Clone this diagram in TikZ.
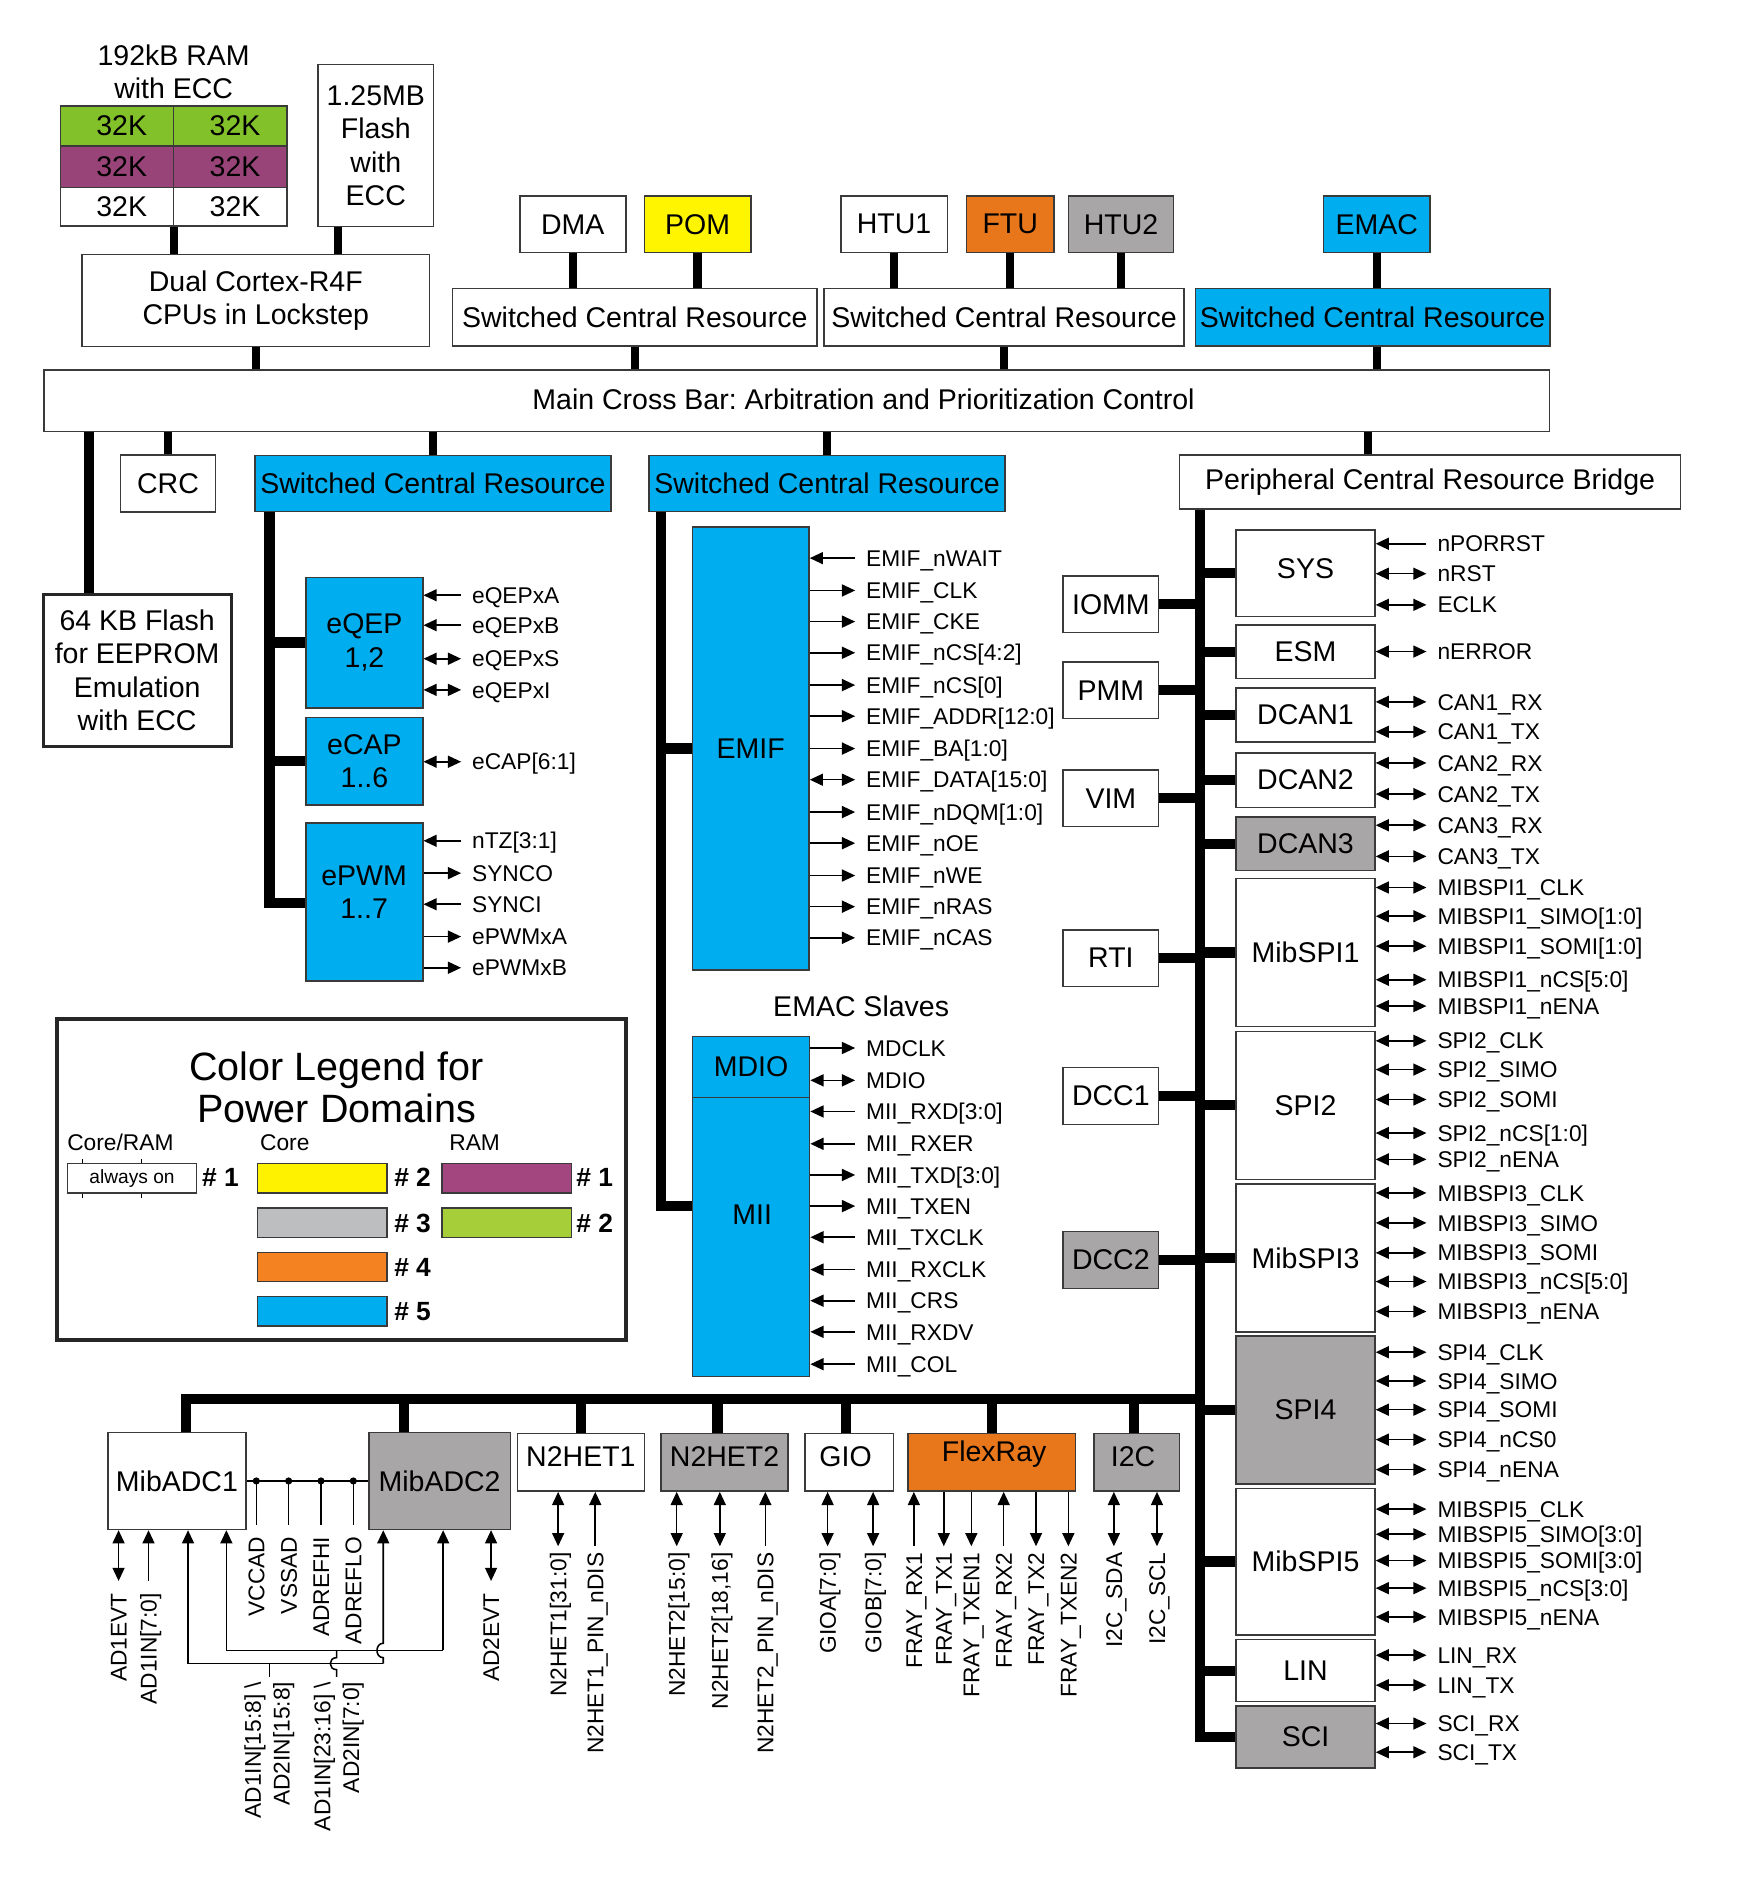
\documentclass[tikz,border=0pt]{standalone}
\usepackage{fontspec}
\setmainfont{Liberation Sans}
\usetikzlibrary{arrows.meta}
\frenchspacing
\definecolor{cblue}{HTML}{00AEEF}
\definecolor{cpom}{HTML}{FFF500}
\definecolor{cyel}{HTML}{FFF200}
\definecolor{cora}{HTML}{E8771B}
\definecolor{lora}{HTML}{F58220}
\definecolor{cgray}{HTML}{A8A6A7}
\definecolor{lgray}{HTML}{BCBEC0}
\definecolor{cgreen}{HTML}{82C12A}
\definecolor{lgreen}{HTML}{A6CE39}
\definecolor{cpur}{HTML}{984478}
\definecolor{lpur}{HTML}{A3467F}
\definecolor{bord}{HTML}{3A3A3A}
\newcommand\mybox[7][white]{%
  \node[blk,fill=#1,minimum width={(#5-#3)*1pt},minimum height={(#6-#4)*1pt}] (#2) at ({(#3+#5)/2},{(#4+#6)/2}) {#7};}
\newcommand\pinR[5]{%
  \node[lbl] (#1-#3) at (#2,#3) {#5};
  \draw[wire,#4] (#1.east |- #1-#3.west) -- ([xshift=-9pt]#1-#3.west);}
\newcommand\pinB[6]{%
  \node[rlbl] (#1-#2) at (#2,#3) {#6};
  \draw[wire,#5] (#1.south -| #1-#2.east) -- ([yshift=#4pt]#1-#2.east);}
\begin{document}
\frenchspacing
\begin{tikzpicture}[x=1pt,y=-1pt,
  >={Triangle[length=11pt,width=10pt]},
  blk/.style={draw=bord,line width=1.2pt,inner sep=0pt,align=center,font=\fontsize{23.8}{28}\selectfont},
  lbl/.style={inner sep=0pt,anchor=west,font=\fontsize{19}{23}\selectfont,text height=13.6pt,text depth=0pt},
  rlbl/.style={inner sep=0pt,anchor=east,rotate=90,font=\fontsize{19}{23}\selectfont,text height=13.6pt,text depth=0pt},
  rlbl2/.style={inner sep=0pt,anchor=east,rotate=90,align=right,font=\fontsize{19}{24}\selectfont},
  btxt/.style={inner sep=0pt,align=center,font=\fontsize{23.8}{28}\selectfont},
  wire/.style={line width=1.3pt,draw=black},
  bus/.style={line width=8.5pt},
  stem/.style={line width=7pt},
  lg/.style={draw=bord,line width=1.2pt,inner sep=0pt,minimum width=108pt,minimum height=24.5pt},
  lnum/.style={inner sep=0pt,anchor=west,font=\fontsize{22}{26}\selectfont\bfseries,text height=15.7pt,text depth=0pt}]
\fill[white] (0,0) rectangle (1457,1568);
\useasboundingbox (0,0) rectangle (1457,1568);

% ---------- top left ----------
\node[btxt] (ramt) at (145,60) {192kB RAM\\with ECC};
\mybox[cgreen]{r1a}{50.5}{88.5}{144.8}{122}{\hspace*{8pt}32K}
\mybox[cgreen]{r1b}{144.8}{88.5}{239.7}{122}{\hspace*{8pt}32K}
\mybox[cpur]{r2a}{50.5}{122}{144.8}{156.7}{\hspace*{8pt}32K}
\mybox[cpur]{r2b}{144.8}{122}{239.7}{156.7}{\hspace*{8pt}32K}
\mybox{r3a}{50.5}{156.7}{144.8}{188.7}{\hspace*{8pt}32K}
\mybox{r3b}{144.8}{156.7}{239.7}{188.7}{\hspace*{8pt}32K}
\mybox{flash}{265.5}{53.7}{362}{189.3}{1.25MB\\Flash\\with\\ECC}
\mybox{cpu}{68.4}{212.6}{358.8}{289.5}{Dual Cortex-R4F\\CPUs in Lockstep}
\mybox{xbar}{36.7}{309}{1293.8}{360.4}{}
\node[btxt] (xbart) at (721,333) {Main Cross Bar: Arbitration and Prioritization Control};

% ---------- top masters ----------
\mybox{dma}{434}{163.5}{522.5}{211}{DMA}
\mybox[cpom]{pom}{538}{163.5}{627}{211}{POM}
\mybox{htu1}{702}{163.5}{791}{211}{HTU1}
\mybox[cora]{ftu}{807}{163.5}{880}{211}{FTU}
\mybox[cgray]{htu2}{892}{163.5}{980}{211}{HTU2}
\mybox[cblue]{emac}{1105}{163.5}{1194}{211}{EMAC}
\mybox{scr1}{378}{241}{682}{289}{Switched Central Resource}
\mybox{scr2}{688}{241}{988.5}{289}{Switched Central Resource}
\mybox[cblue]{scr3}{998}{241}{1294}{289}{Switched Central Resource}

% ---------- below crossbar ----------
\mybox{crc}{100.6}{380}{180}{427.6}{CRC}
\mybox[cblue]{scr4}{213}{380.5}{510}{427}{Switched Central Resource}
\mybox[cblue]{scr5}{542}{380.5}{839}{427}{Switched Central Resource}
\mybox{pcrb}{985}{380}{1403}{425}{Peripheral Central Resource Bridge}
\node[blk,draw=black!85,line width=2.4pt,minimum width=157pt,minimum height=126.5pt] (flash64) at (114.5,559.75) {64 KB Flash\\for EEPROM\\Emulation\\with ECC};

\mybox[cblue]{eqep}{255.6}{482}{353}{591}{eQEP\\1,2}
\mybox[cblue]{ecap}{255.6}{599}{353}{672}{eCAP\\1..6}
\mybox[cblue]{epwm}{255.6}{687}{353}{819}{}
\node[btxt] (epwmt) at (304,745) {ePWM\\1..7};
\mybox[cblue]{emif}{578}{440}{675.5}{810}{EMIF}
\node[btxt] (emacs) at (719,840) {EMAC Slaves};
\mybox[cblue]{mdio}{578}{865.5}{676}{916.5}{MDIO}
\mybox[cblue]{mii}{578}{916.5}{676}{1149.4}{}
\node[btxt] (miit) at (628,1014) {MII};

% ---------- peripheral column ----------
\mybox{iomm}{887.6}{481}{967.4}{528}{IOMM}
\mybox{pmm}{887.6}{552.7}{967.4}{600}{PMM}
\mybox{vim}{887.6}{643}{967.4}{690}{VIM}
\mybox{rti}{887.6}{776.5}{967.4}{823.5}{RTI}
\mybox{dcc1}{887.6}{891.4}{967.4}{939}{DCC1}
\mybox[cgray]{dcc2}{887.6}{1028}{967.4}{1075.6}{DCC2}

\mybox{sys}{1032}{442.6}{1148}{514.5}{}
\node[btxt] (syst) at (1090,475) {SYS};
\mybox{esm}{1032}{522}{1148}{566.6}{ESM}
\mybox{dcan1}{1032}{574.6}{1148}{619.6}{DCAN1}
\mybox{dcan2}{1032}{628.7}{1148}{674}{DCAN2}
\mybox[cgray]{dcan3}{1032}{682}{1148}{727}{DCAN3}
\mybox{mibspi1}{1032}{733.6}{1148}{857}{MibSPI1}
\mybox{spi2}{1032}{861}{1148}{984.6}{SPI2}
\mybox{mibspi3}{1032}{988.5}{1148}{1112}{MibSPI3}
\mybox[cgray]{spi4}{1032}{1115.5}{1148}{1239}{SPI4}
\mybox{mibspi5}{1032}{1242.6}{1148}{1365}{MibSPI5}
\mybox{lin}{1032}{1369}{1148}{1420.8}{LIN}
\mybox[cgray]{sci}{1032}{1424.4}{1148}{1476}{SCI}

% ---------- bottom row ----------
\mybox{adc1}{90}{1196}{205.5}{1277}{MibADC1}
\mybox[cgray]{adc2}{308}{1196}{426}{1277}{MibADC2}
\mybox{n2het1}{432}{1197}{538}{1245}{}
\mybox[cgray]{n2het2}{552}{1197}{658}{1245}{}
\mybox{gio}{672}{1197}{746}{1245}{}
\mybox[cora]{flexray}{758}{1197}{898}{1245}{}
\mybox[cgray]{i2c}{913.5}{1197}{985}{1245}{}
\node[btxt] (n2het1t) at (485,1216) {N2HET1};
\node[btxt] (n2het2t) at (605,1216) {N2HET2};
\node[btxt] (giot) at (706,1216) {GIO};
\node[btxt] (flexrayt) at (830,1214) {FlexRay};
\node[btxt] (i2ct) at (946,1216) {I2C};

% ---------- thick connections ----------
\coordinate (fx) at (282,0);
\coordinate (lx) at (74,0);
\coordinate (px) at (1142,0);
\draw[stem] (r3a.south east) -- (r3a.south east |- cpu.north);
\draw[stem] (flash.south -| fx) -- (cpu.north -| fx);
\draw[stem] (cpu.south) -- (cpu.south |- xbar.north);
\foreach \m/\s in {dma/scr1,pom/scr1,htu1/scr2,ftu/scr2,htu2/scr2,emac/scr3}
  \draw[stem] (\m.south) -- (\m.south |- \s.north);
\draw[stem] (scr1.south) -- (scr1.south |- xbar.north);
\draw[stem] (scr2.south) -- (scr2.south |- xbar.north);
\draw[stem] (scr3.south -| emac.south) -- (xbar.north -| emac.south);
\draw[bus] (xbar.south -| lx) -- (flash64.north -| lx);
\draw[stem] (crc.north) -- (crc.north |- xbar.south);
\draw[stem] (scr4.north) -- (scr4.north |- xbar.south);
\draw[stem] (scr5.north) -- (scr5.north |- xbar.south);
\draw[stem] (xbar.south -| px) -- (pcrb.north -| px);

\coordinate (v4) at (225,754);
\draw[bus] (scr4.south -| v4) -- (v4) -- (v4 -| epwm.west);
\draw[bus] (eqep.west -| v4) -- (eqep.west);
\draw[bus] (ecap.west -| v4) -- (ecap.west);
\coordinate (v5) at (552,1007);
\draw[bus] (scr5.south -| v5) -- (v5) -- (v5 -| mii.west);
\draw[bus] (emif.west -| v5) -- (emif.west);

\coordinate (mv) at (1002,1450);
\draw[bus] (pcrb.south -| mv) -- (mv) -- (mv -| sci.west);
\foreach \b in {sys,esm,dcan1,dcan2,dcan3,mibspi1,spi2,mibspi3,spi4,mibspi5,lin}
  \draw[bus] (\b.west -| mv) -- (\b.west);
\foreach \b in {iomm,pmm,vim,rti,dcc1,dcc2}
  \draw[bus] (\b.east) -- (\b.east -| mv);

\coordinate (bb) at (155,1168);
\coordinate (a2x) at (337,0);
\coordinate (h2x) at (599,0);
\coordinate (gx) at (706,0);
\coordinate (ix) at (947,0);
\draw[bus] (bb -| mv) -- (bb) -- (bb |- adc1.north);
\draw[bus] (bb -| a2x) -- (adc2.north -| a2x);
\draw[bus] (bb -| n2het1.north) -- (n2het1.north);
\draw[bus] (bb -| h2x) -- (n2het2.north -| h2x);
\draw[bus] (bb -| gx) -- (gio.north -| gx);
\draw[bus] (bb -| flexray.north) -- (flexray.north);
\draw[bus] (bb -| ix) -- (i2c.north -| ix);

% ---------- pins: eQEP/eCAP/ePWM ----------
\pinR{eqep}{394}{497}{<-}{eQEPxA}
\pinR{eqep}{394}{522}{<-}{eQEPxB}
\pinR{eqep}{394}{550}{<->}{eQEPxS}
\pinR{eqep}{394}{576}{<->}{eQEPxI}
\pinR{ecap}{394}{636}{<->}{eCAP[6:1]}
\pinR{epwm}{394}{702}{<-}{nTZ[3:1]}
\pinR{epwm}{394}{729}{->}{SYNCO}
\pinR{epwm}{394}{755}{<-}{SYNCI}
\pinR{epwm}{394}{782}{->}{ePWMxA}
\pinR{epwm}{394}{808}{->}{ePWMxB}

% ---------- pins: EMIF ----------
\pinR{emif}{723}{466}{<-}{EMIF\_nWAIT}
\pinR{emif}{723}{493}{->}{EMIF\_CLK}
\pinR{emif}{723}{519}{->}{EMIF\_CKE}
\pinR{emif}{723}{545}{->}{EMIF\_nCS[4:2]}
\pinR{emif}{723}{572}{->}{EMIF\_nCS[0]}
\pinR{emif}{723}{598}{->}{EMIF\_ADDR[12:0]}
\pinR{emif}{723}{625}{->}{EMIF\_BA[1:0]}
\pinR{emif}{723}{651}{<->}{EMIF\_DATA[15:0]}
\pinR{emif}{723}{678}{->}{EMIF\_nDQM[1:0]}
\pinR{emif}{723}{704}{->}{EMIF\_nOE}
\pinR{emif}{723}{731}{->}{EMIF\_nWE}
\pinR{emif}{723}{757}{->}{EMIF\_nRAS}
\pinR{emif}{723}{783}{->}{EMIF\_nCAS}

% ---------- pins: MDIO / MII ----------
\pinR{mdio}{723}{875}{->}{MDCLK}
\pinR{mdio}{723}{902}{<->}{MDIO}
\pinR{mii}{723}{928}{<-}{MII\_RXD[3:0]}
\pinR{mii}{723}{955}{<-}{MII\_RXER}
\pinR{mii}{723}{981}{->}{MII\_TXD[3:0]}
\pinR{mii}{723}{1007}{->}{MII\_TXEN}
\pinR{mii}{723}{1033}{<-}{MII\_TXCLK}
\pinR{mii}{723}{1060}{<-}{MII\_RXCLK}
\pinR{mii}{723}{1086}{<-}{MII\_CRS}
\pinR{mii}{723}{1112}{<-}{MII\_RXDV}
\pinR{mii}{723}{1139}{<-}{MII\_COL}

% ---------- pins: right column ----------
\pinR{sys}{1200}{454}{<-}{nPORRST}
\pinR{sys}{1200}{479}{<->}{nRST}
\pinR{sys}{1200}{505}{<->}{ECLK}
\pinR{esm}{1200}{544}{<->}{nERROR}
\pinR{dcan1}{1200}{586}{<->}{CAN1\_RX}
\pinR{dcan1}{1200}{611}{<->}{CAN1\_TX}
\pinR{dcan2}{1200}{637}{<->}{CAN2\_RX}
\pinR{dcan2}{1200}{663}{<->}{CAN2\_TX}
\pinR{dcan3}{1200}{689}{<->}{CAN3\_RX}
\pinR{dcan3}{1200}{715}{<->}{CAN3\_TX}
\pinR{mibspi1}{1200}{741}{<->}{MIBSPI1\_CLK}
\pinR{mibspi1}{1200}{765}{<->}{MIBSPI1\_SIMO[1:0]}
\pinR{mibspi1}{1200}{790}{<->}{MIBSPI1\_SOMI[1:0]}
\pinR{mibspi1}{1200}{818}{<->}{MIBSPI1\_nCS[5:0]}
\pinR{mibspi1}{1200}{840}{<->}{MIBSPI1\_nENA}
\pinR{spi2}{1200}{869}{<->}{SPI2\_CLK}
\pinR{spi2}{1200}{893}{<->}{SPI2\_SIMO}
\pinR{spi2}{1200}{918}{<->}{SPI2\_SOMI}
\pinR{spi2}{1200}{946}{<->}{SPI2\_nCS[1:0]}
\pinR{spi2}{1200}{968}{<->}{SPI2\_nENA}
\pinR{mibspi3}{1200}{996}{<->}{MIBSPI3\_CLK}
\pinR{mibspi3}{1200}{1021}{<->}{MIBSPI3\_SIMO}
\pinR{mibspi3}{1200}{1046}{<->}{MIBSPI3\_SOMI}
\pinR{mibspi3}{1200}{1070}{<->}{MIBSPI3\_nCS[5:0]}
\pinR{mibspi3}{1200}{1095}{<->}{MIBSPI3\_nENA}
\pinR{spi4}{1200}{1129}{<->}{SPI4\_CLK}
\pinR{spi4}{1200}{1153}{<->}{SPI4\_SIMO}
\pinR{spi4}{1200}{1177}{<->}{SPI4\_SOMI}
\pinR{spi4}{1200}{1202}{<->}{SPI4\_nCS0}
\pinR{spi4}{1200}{1227}{<->}{SPI4\_nENA}
\pinR{mibspi5}{1200}{1260}{<->}{MIBSPI5\_CLK}
\pinR{mibspi5}{1200}{1281}{<->}{MIBSPI5\_SIMO[3:0]}
\pinR{mibspi5}{1200}{1303}{<->}{MIBSPI5\_SOMI[3:0]}
\pinR{mibspi5}{1200}{1326}{<->}{MIBSPI5\_nCS[3:0]}
\pinR{mibspi5}{1200}{1350}{<->}{MIBSPI5\_nENA}
\pinR{lin}{1200}{1382}{<->}{LIN\_RX}
\pinR{lin}{1200}{1407}{<->}{LIN\_TX}
\pinR{sci}{1200}{1439}{<->}{SCI\_RX}
\pinR{sci}{1200}{1463}{<->}{SCI\_TX}

% ---------- pins: bottom ----------
\pinB{adc1}{99}{1330}{10}{<->}{AD1EVT}
\pinB{adc1}{124}{1330}{10}{<-}{AD1IN[7:0]}
\pinB{adc2}{410}{1330}{10}{<->}{AD2EVT}
\pinB{n2het1}{466}{1296}{5}{<->}{N2HET1[31:0]}
\pinB{n2het1}{497}{1296}{5}{<-}{N2HET1\_PIN\_nDIS}
\pinB{n2het2}{565}{1296}{5}{<->}{N2HET2[15:0]}
\pinB{n2het2}{601}{1296}{5}{<->}{N2HET2[18,16]}
\pinB{n2het2}{639}{1296}{5}{<-}{N2HET2\_PIN\_nDIS}
\pinB{gio}{691}{1296}{5}{<->}{GIOA[7:0]}
\pinB{gio}{729}{1296}{5}{<->}{GIOB[7:0]}
\pinB{flexray}{763}{1296}{5}{<-}{FRAY\_RX1}
\pinB{flexray}{788}{1296}{5}{->}{FRAY\_TX1}
\pinB{flexray}{811}{1296}{5}{->}{FRAY\_TXEN1}
\pinB{flexray}{838}{1296}{5}{<-}{FRAY\_RX2}
\pinB{flexray}{865}{1296}{5}{->}{FRAY\_TX2}
\pinB{flexray}{892}{1296}{5}{->}{FRAY\_TXEN2}
\pinB{i2c}{930}{1296}{5}{<->}{I2C\_SDA}
\pinB{i2c}{966}{1296}{5}{<->}{I2C\_SCL}

% ---------- ADC shared lines ----------
\draw[wire] (adc1.east) -- (adc2.west);
\foreach \x/\t in {214/VCCAD,241/VSSAD,268/ADREFHI,295/ADREFLO}{
  \node[rlbl] (ref\x) at (\x,1283) {\t};
  \draw[wire] (ref\x.east |- adc1.east) -- ([yshift=10pt]ref\x.east);
  \fill (ref\x.east |- adc1.east) circle (3pt);
}
\coordinate (q1) at (157,1389);
\coordinate (q2) at (189,1378);
\coordinate (q3) at (320,1389);
\coordinate (q4) at (370,1378);
\draw[wire,->] (q1) -- (q1 |- adc1.south);
\draw[wire,->] (q2) -- (q2 |- adc1.south);
\draw[wire,->] (q4) -- (q4 |- adc2.south);
\draw[wire,->] (q3) -- (320,1384) .. controls (313,1384) and (313,1372) .. (320,1372) -- (q3 |- adc2.south);
\draw[wire] (q1) -- (q3);
\draw[wire] (q2) -- (q4);
\node[rlbl2] (tap1l) at (225,1404) {AD1IN[15:8] \textbackslash\\AD2IN[15:8]};
\node[rlbl2] (tap2l) at (283,1404) {AD1IN[23:16] \textbackslash\\AD2IN[7:0]};
\draw[wire] (225,1389) -- (225,1400);
\draw[wire] (281,1378) -- (281,1384) .. controls (274,1384) and (274,1394) .. (281,1394) -- (281,1400);

% ---------- legend ----------
\node[draw=black!85,line width=3.2pt,minimum width=475pt,minimum height=268pt,inner sep=0pt] (legend) at (285,985) {};
\node[inner sep=0pt,align=center,font=\fontsize{33}{35}\selectfont] (ltitle) at (281,908) {Color Legend for\\Power Domains};
\node[lbl] (lcr) at (56,954) {Core/RAM};
\node[lbl] (lc) at (217,954) {Core};
\node[lbl] (lr) at (375,954) {RAM};
\node[lg,minimum width=107.6pt,font=\fontsize{16}{18}\selectfont] (lao) at (110.2,983.75) {always on};
\foreach \dx in {-41.2,7.5}{
  \draw[line width=0.6pt] ([xshift=\dx pt]lao.north) -- ++(0,-3.5);
  \draw[line width=0.6pt] ([xshift=\dx pt]lao.south) -- ++(0,3.5);
}
\node[lnum] (ln1) at (168.5,983) {\# 1};
\node[lg,fill=cyel] (ly) at (269,983.75) {};
\node[lg,fill=lgray] (lgr) at (269,1020.85) {};
\node[lg,fill=lora] (lo) at (269,1057.8) {};
\node[lg,fill=cblue] (lb) at (269,1094.8) {};
\node[lnum] (ln2) at (329,983) {\# 2};
\node[lnum] (ln3) at (329,1021) {\# 3};
\node[lnum] (ln4) at (329,1058) {\# 4};
\node[lnum] (ln5) at (329,1095) {\# 5};
\node[lg,fill=lpur] (lp) at (423,983.75) {};
\node[lg,fill=lgreen] (lgn) at (423,1020.85) {};
\node[lnum] (lr1) at (481,983) {\# 1};
\node[lnum] (lr2) at (481,1021) {\# 2};
\end{tikzpicture}
\end{document}
